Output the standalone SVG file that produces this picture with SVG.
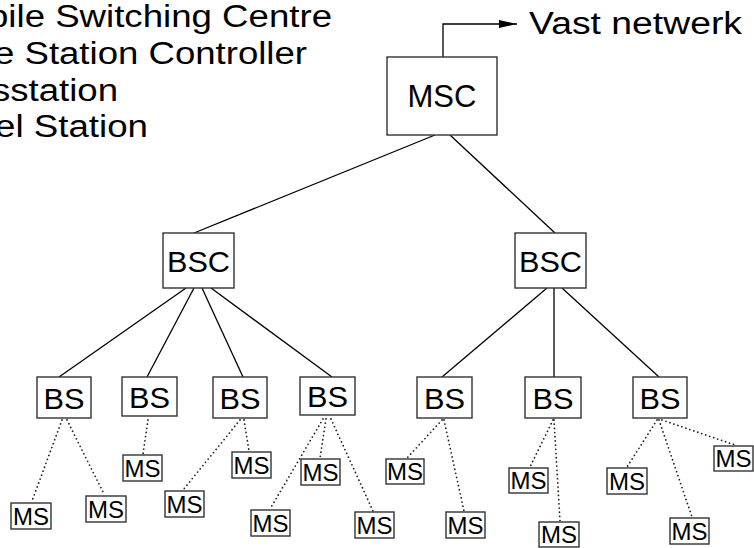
<svg xmlns="http://www.w3.org/2000/svg" width="754" height="548" viewBox="0 0 754 548">
  <defs>
    <marker id="arrow" markerWidth="18" markerHeight="8" refX="18" refY="4" orient="auto" markerUnits="userSpaceOnUse">
      <path d="M0,0 L18,4 L0,8 Z" fill="#000"/>
    </marker>
    <style>
      .box { fill: #fff; stroke: #333; stroke-width: 1.4; }
      .lbl { font-family: "Liberation Sans", Arial, sans-serif; fill: #000; text-anchor: middle; }
      .big { font-size: 31px; }
      .mid { font-size: 30px; }
      .small { font-size: 24px; }
      .legend { font-family: "Liberation Sans", Arial, sans-serif; font-size: 31px; fill: #000; }
      .link { stroke: #000; stroke-width: 1.3; fill: none; }
      .radio { stroke: #222; stroke-width: 1.8; fill: none; stroke-dasharray: 0 4.2; stroke-linecap: round; }
    </style>
  </defs>
  <rect width="754" height="548" fill="#fff"/>

  <!-- legend -->
  <g id="legend">
    <text class="legend" x="-12" y="27" textLength="344" lengthAdjust="spacingAndGlyphs">bile Switching Centre</text>
    <text class="legend" x="-6" y="64" textLength="313" lengthAdjust="spacingAndGlyphs">e Station Controller</text>
    <text class="legend" x="-8" y="101" textLength="126" lengthAdjust="spacingAndGlyphs">sstation</text>
    <text class="legend" x="-5" y="137" textLength="153" lengthAdjust="spacingAndGlyphs">el Station</text>
  </g>

  <!-- connectors -->
  <g id="connectors">
    <polyline class="link" points="443,57 443,24 517,24" marker-end="url(#arrow)"/>
    <line class="link" x1="435" y1="135" x2="194" y2="233"/>
    <line class="link" x1="450" y1="135" x2="555" y2="233"/>
    <line class="link" x1="186" y1="288" x2="59" y2="377"/>
    <line class="link" x1="194" y1="288" x2="147" y2="377"/>
    <line class="link" x1="202" y1="288" x2="243" y2="377"/>
    <line class="link" x1="211" y1="288" x2="332" y2="377"/>
    <line class="link" x1="547" y1="288" x2="442" y2="377"/>
    <line class="link" x1="554" y1="288" x2="554" y2="377"/>
    <line class="link" x1="562" y1="288" x2="659" y2="377"/>

    <line class="radio" x1="62" y1="420" x2="32" y2="501"/>
    <line class="radio" x1="67" y1="420" x2="104" y2="494"/>
    <line class="radio" x1="148" y1="420" x2="143" y2="454"/>
    <line class="radio" x1="240" y1="420" x2="183" y2="490"/>
    <line class="radio" x1="244" y1="420" x2="249" y2="451"/>
    <line class="radio" x1="323" y1="419" x2="270" y2="509"/>
    <line class="radio" x1="326" y1="419" x2="320" y2="458"/>
    <line class="radio" x1="331" y1="419" x2="373" y2="511"/>
    <line class="radio" x1="442" y1="420" x2="407" y2="458"/>
    <line class="radio" x1="444" y1="420" x2="464" y2="511"/>
    <line class="radio" x1="553" y1="420" x2="530" y2="467"/>
    <line class="radio" x1="554" y1="420" x2="560" y2="521"/>
    <line class="radio" x1="657" y1="420" x2="627" y2="467"/>
    <line class="radio" x1="659" y1="420" x2="692" y2="517"/>
    <line class="radio" x1="662" y1="420" x2="735" y2="445"/>
  </g>

  <text id="vast-netwerk" class="legend" x="529" y="34" textLength="213" lengthAdjust="spacingAndGlyphs">Vast netwerk</text>

  <!-- switching centre -->
  <g id="msc">
    <rect class="box" x="387" y="57" width="110" height="78"/>
    <text class="lbl big" x="442" y="107">MSC</text>
  </g>

  <!-- base station controllers -->
  <g id="bsc1">
    <rect class="box" x="163" y="233" width="71" height="55"/>
    <text class="lbl mid" x="198.5" y="272" textLength="63" lengthAdjust="spacingAndGlyphs">BSC</text>
  </g>
  <g id="bsc2">
    <rect class="box" x="515" y="233" width="71" height="55"/>
    <text class="lbl mid" x="550.5" y="272" textLength="63" lengthAdjust="spacingAndGlyphs">BSC</text>
  </g>

  <!-- base stations -->
  <g id="bs1"><rect class="box" x="37" y="377" width="54" height="41"/><text class="lbl mid" x="64" y="409" textLength="41" lengthAdjust="spacingAndGlyphs">BS</text></g>
  <g id="bs2"><rect class="box" x="122" y="377" width="55" height="39"/><text class="lbl mid" x="149.5" y="408" textLength="41" lengthAdjust="spacingAndGlyphs">BS</text></g>
  <g id="bs3"><rect class="box" x="213" y="377" width="54" height="41"/><text class="lbl mid" x="240" y="409" textLength="41" lengthAdjust="spacingAndGlyphs">BS</text></g>
  <g id="bs4"><rect class="box" x="300" y="377" width="55" height="38"/><text class="lbl mid" x="327.5" y="407" textLength="41" lengthAdjust="spacingAndGlyphs">BS</text></g>
  <g id="bs5"><rect class="box" x="417" y="377" width="55" height="41"/><text class="lbl mid" x="444.5" y="409" textLength="41" lengthAdjust="spacingAndGlyphs">BS</text></g>
  <g id="bs6"><rect class="box" x="525" y="377" width="56" height="41"/><text class="lbl mid" x="553" y="409" textLength="41" lengthAdjust="spacingAndGlyphs">BS</text></g>
  <g id="bs7"><rect class="box" x="633" y="377" width="54" height="41"/><text class="lbl mid" x="660" y="409" textLength="41" lengthAdjust="spacingAndGlyphs">BS</text></g>

  <!-- mobile stations -->
  <g id="ms1"><rect class="box" x="11" y="503" width="40" height="26"/><text class="lbl small" x="31" y="525">MS</text></g>
  <g id="ms2"><rect class="box" x="86" y="496" width="40" height="26"/><text class="lbl small" x="106" y="518">MS</text></g>
  <g id="ms3"><rect class="box" x="123" y="455" width="39" height="26"/><text class="lbl small" x="142.5" y="477">MS</text></g>
  <g id="ms4"><rect class="box" x="165" y="491" width="39" height="26"/><text class="lbl small" x="184.5" y="513">MS</text></g>
  <g id="ms5"><rect class="box" x="232" y="452" width="39" height="26"/><text class="lbl small" x="251.5" y="474">MS</text></g>
  <g id="ms6"><rect class="box" x="301" y="459" width="39" height="26"/><text class="lbl small" x="320.5" y="481">MS</text></g>
  <g id="ms7"><rect class="box" x="251" y="510" width="39" height="26"/><text class="lbl small" x="270.5" y="532">MS</text></g>
  <g id="ms8"><rect class="box" x="355" y="512" width="39" height="26"/><text class="lbl small" x="374.5" y="534">MS</text></g>
  <g id="ms9"><rect class="box" x="386" y="459" width="38" height="25"/><text class="lbl small" x="405" y="480">MS</text></g>
  <g id="ms10"><rect class="box" x="446" y="512" width="39" height="26"/><text class="lbl small" x="465.5" y="534">MS</text></g>
  <g id="ms11"><rect class="box" x="509" y="468" width="39" height="25"/><text class="lbl small" x="528.5" y="489">MS</text></g>
  <g id="ms12"><rect class="box" x="539" y="522" width="40" height="25"/><text class="lbl small" x="559" y="543">MS</text></g>
  <g id="ms13"><rect class="box" x="607" y="468" width="40" height="26"/><text class="lbl small" x="627" y="490">MS</text></g>
  <g id="ms14"><rect class="box" x="670" y="518" width="39" height="26"/><text class="lbl small" x="689.5" y="540">MS</text></g>
  <g id="ms15"><rect class="box" x="714" y="446" width="39" height="25"/><text class="lbl small" x="733.5" y="467">MS</text></g>
</svg>
